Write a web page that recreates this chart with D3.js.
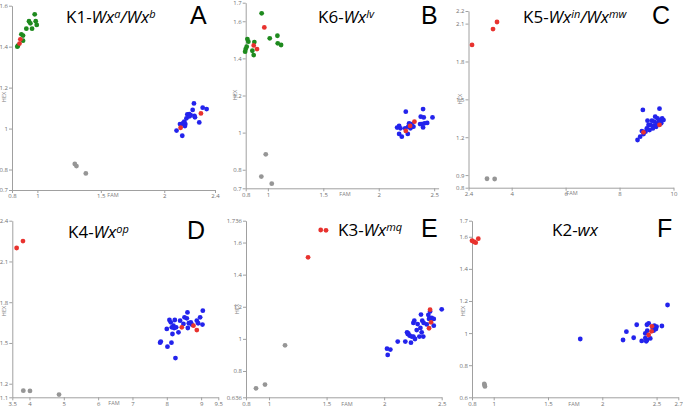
<!DOCTYPE html>
<html><head><meta charset="utf-8">
<script src="https://cdn.jsdelivr.net/npm/d3@7"></script>
<style>
html,body{margin:0;padding:0;background:#fff;}
svg{display:block;font-family:"Open Sans",sans-serif;}
.axis path,.axis line{stroke:#a0a0a0;stroke-width:1;}
.axis text{fill:#707070;font-size:6px;font-family:"Open Sans",sans-serif;}
</style></head><body>
<svg id="chart" width="683" height="408"></svg>
<script>
// ---------- DATA ----------
// Panel A  K1-Wx^a/Wx^b
const aXTicks=[0.8,1,1.5,2,2.4];
const aYTicks=[0.7,0.8,1,1.2,1.4,1.6];
const aGreen=[[0.842,1.400],[0.847,1.405],[0.874,1.460],[0.887,1.454],[0.887,1.429],[0.913,1.488],[0.934,1.524],[0.945,1.514],[0.958,1.488],[0.979,1.558],[0.987,1.524],[0.995,1.506]];
const aRed=[[0.866,1.436],[0.859,1.415],[2.129,1.004],[2.289,1.074]];
const aBlue=[[2.097,0.990],[2.124,1.022],[2.142,0.965],[2.135,1.020],[2.158,1.034],[2.166,1.022],[2.163,1.012],[2.175,1.050],[2.182,1.069],[2.197,1.071],[2.208,1.066],[2.224,1.091],[2.234,1.123],[2.242,1.055],[2.238,1.062],[2.276,1.030],[2.303,1.102],[2.334,1.095],[2.150,1.028],[2.200,1.060]];
const aGray=[[1.295,0.827],[1.308,0.817],[1.382,0.781]];

// Panel B  K6-Wx^lv
const bXTicks=[0.8,1,1.5,2,2.5];
const bYTicks=[0.7,0.8,1,1.2,1.4,1.6,1.7];
const bGreen=[[0.795,1.436],[0.800,1.450],[0.809,1.463],[0.815,1.504],[0.824,1.490],[0.860,1.441],[0.872,1.418],[0.878,1.488],[0.944,1.643],[1.017,1.508],[1.086,1.522],[1.089,1.481],[1.119,1.472]];
const bRed=[[0.872,1.470],[0.902,1.450],[0.968,1.567],[2.244,1.009],[2.322,1.059],[2.283,1.036]];
const bBlue=[[2.166,1.027],[2.184,1.036],[2.196,1.023],[2.184,0.993],[2.208,0.978],[2.244,1.113],[2.238,1.023],[2.262,0.993],[2.274,1.050],[2.286,1.023],[2.298,1.046],[2.313,1.032],[2.379,1.086],[2.388,1.046],[2.400,1.127],[2.406,1.082],[2.400,1.028],[2.412,1.050],[2.437,1.052],[2.485,1.082],[2.373,1.046],[2.266,1.032]];
const bGray=[[0.981,0.883],[0.941,0.763],[1.035,0.725]];

// Panel C  K5-Wx^in/Wx^mw
const cXTicks=[2.4,4,6,8,10];
const cYTicks=[0.8,0.9,1.2,1.5,1.8,2.1,2.2];
const cGreen=[];
const cRed=[[2.531,1.931],[3.309,2.057],[3.457,2.113],[8.889,1.239],[9.481,1.297]];
const cBlue=[[8.864,1.416],[9.481,1.426],[8.667,1.178],[8.765,1.204],[8.827,1.249],[8.889,1.225],[8.963,1.244],[9.012,1.270],[9.037,1.331],[9.136,1.297],[9.111,1.257],[9.198,1.331],[9.259,1.289],[9.284,1.323],[9.321,1.363],[9.383,1.305],[9.407,1.350],[9.444,1.323],[9.506,1.336],[9.543,1.310],[9.580,1.350],[9.630,1.336],[9.358,1.283],[9.235,1.270],[9.074,1.297]];
const cGray=[[3.086,0.871],[3.370,0.869]];

// Panel D  K4-Wx^op
const dXTicks=[3.5,4,5,6,7,8,9,9.5];
const dYTicks=[1.1,1.2,1.5,1.8,2.1,2.4];
const dGreen=[];
const dRed=[[3.626,2.199],[3.811,2.250],[8.437,1.615],[8.777,1.627],[8.874,1.595]];
const dBlue=[[7.805,1.502],[7.825,1.510],[8.000,1.603],[8.019,1.473],[8.077,1.669],[8.116,1.652],[8.136,1.502],[8.145,1.615],[8.165,1.566],[8.194,1.627],[8.213,1.610],[8.233,1.669],[8.252,1.389],[8.272,1.615],[8.340,1.578],[8.388,1.664],[8.485,1.640],[8.515,1.689],[8.583,1.681],[8.602,1.725],[8.612,1.610],[8.641,1.645],[8.699,1.652],[8.728,1.635],[8.874,1.664],[8.913,1.645],[8.971,1.689],[9.049,1.738],[9.039,1.635]];
const dGray=[[3.821,1.149],[4.015,1.147],[4.861,1.120]];

// Panel E  K3-Wx^mq
const eXTicks=[0.8,1,1.5,2,2.5];
const eYTicks=[0.636,0.8,1,1.2,1.4,1.6,1.736];
const eGreen=[];
const eRed=[[1.449,1.678],[1.495,1.676],[1.339,1.508],[2.399,1.182],[2.407,1.103],[2.390,1.066]];
const eBlue=[[2.025,0.939],[2.031,0.900],[2.054,0.933],[2.118,0.983],[2.184,0.983],[2.199,1.041],[2.210,1.034],[2.222,1.020],[2.233,0.976],[2.239,1.014],[2.254,1.014],[2.254,1.099],[2.262,1.113],[2.268,0.999],[2.283,1.055],[2.291,1.092],[2.306,1.014],[2.315,1.068],[2.320,1.151],[2.326,1.041],[2.331,1.113],[2.340,1.014],[2.343,1.099],[2.384,1.149],[2.390,1.124],[2.399,1.171],[2.413,1.130],[2.431,1.124],[2.431,1.082],[2.500,1.184],[2.370,1.090],[2.205,1.030]];
const eGray=[[0.887,0.692],[0.965,0.715],[1.139,0.960]];

// Panel F  K2-wx
const fXTicks=[0.8,1,1.5,2,2.5,2.7];
const fYTicks=[0.6,0.8,1,1.2,1.4,1.6,1.7];
const fGreen=[];
const fRed=[[0.800,1.575],[0.818,1.569],[0.834,1.563],[0.858,1.588],[2.457,1.042],[2.454,1.011],[2.427,0.988]];
const fBlue=[[1.797,0.963],[2.191,0.957],[2.222,1.009],[2.289,0.971],[2.317,1.052],[2.363,0.951],[2.396,0.969],[2.396,0.998],[2.405,0.949],[2.411,0.957],[2.414,1.015],[2.411,1.052],[2.427,1.061],[2.442,0.967],[2.472,1.015],[2.479,1.046],[2.485,1.032],[2.494,1.025],[2.500,1.040],[2.549,1.044],[2.601,1.175],[2.466,1.030]];
const fGray=[[0.913,0.683],[0.919,0.668],[0.916,0.676]];

// ---------- LAYOUT ----------
const COLORS={green:"#1e8a1e",red:"#e8322e",blue:"#2323ec",gray:"#969696"};
const panels=[
 {xd:[0.8,2.4],yd:[0.7,1.6],xr:[12,215],yr:[190,5.7],xt:aXTicks,yt:aYTicks,g:aGreen,r:aRed,b:aBlue,k:aGray,
  title:[["K1-",""],["Wx","i"],["a","si"],["/","i"],["Wx","i"],["b","si"]],tx:66,ty:23,letter:"A",lx:190,ly:24,xl:[113,197],yl:[4,97]},
 {xd:[0.8,2.54],yd:[0.7,1.7],xr:[245.7,438.6],yr:[188.3,2.7],xt:bXTicks,yt:bYTicks,g:bGreen,r:bRed,b:bBlue,k:bGray,
  title:[["K6-",""],["Wx","i"],["lv","si"]],tx:318,ty:23,letter:"B",lx:421,ly:24,xl:[345,196],yl:[235,95]},
 {xd:[2.4,10],yd:[0.8,2.2],xr:[468.5,673.5],yr:[187.7,11],xt:cXTicks,yt:cYTicks,g:cGreen,r:cRed,b:cBlue,k:cGray,
  title:[["K5-",""],["Wx","i"],["in","si"],["/","i"],["Wx","i"],["mw","si"]],tx:523,ty:23,letter:"C",lx:652,ly:24,xl:[572,195],yl:[460,99]},
 {xd:[3.5,9.5],yd:[1.1,2.4],xr:[12.3,218.3],yr:[397.3,220.7],xt:dXTicks,yt:dYTicks,g:dGreen,r:dRed,b:dBlue,k:dGray,
  title:[["K4-",""],["Wx","i"],["op","si"]],tx:68,ty:238,letter:"D",lx:187,ly:239,xl:[114,405],yl:[4,311]},
 {xd:[0.8,2.5],yd:[0.636,1.736],xr:[246,441.7],yr:[397.3,220.7],xt:eXTicks,yt:eYTicks,g:eGreen,r:eRed,b:eBlue,k:eGray,
  title:[["K3-",""],["Wx","i"],["mq","si"]],tx:338,ty:236,letter:"E",lx:421,ly:237,xl:[347,405.5],yl:[237,309]},
 {xd:[0.8,2.7],yd:[0.6,1.7],xr:[472,678.3],yr:[397.3,220.7],xt:fXTicks,yt:fYTicks,g:fGreen,r:fRed,b:fBlue,k:fGray,
  title:[["K2-",""],["wx","i"]],tx:552,ty:236,letter:"F",lx:657,ly:237,xl:[574,405.5],yl:[463,311]}
];

const svg=d3.select("#chart");
const fmt=d=>String(d);

panels.forEach(p=>{
  const x=d3.scaleLinear().domain(p.xd).range(p.xr);
  const y=d3.scaleLinear().domain(p.yd).range(p.yr);
  const g=svg.append("g");
  g.append("g").attr("class","axis").attr("transform",`translate(0,${p.yr[0]})`)
    .call(d3.axisBottom(x).tickValues(p.xt).tickFormat(fmt).tickSize(3).tickSizeOuter(0).tickPadding(1));
  g.append("g").attr("class","axis").attr("transform",`translate(${p.xr[0]},0)`)
    .call(d3.axisLeft(y).tickValues(p.yt).tickFormat(fmt).tickSize(3).tickSizeOuter(0).tickPadding(1));
  g.append("text").attr("x",p.xl[0]).attr("y",p.xl[1]).attr("font-size",5.5).attr("fill","#808080")
    .attr("text-anchor","middle").text("FAM");
  g.append("text").attr("transform",`translate(${p.yl[0]},${p.yl[1]}) rotate(-90)`).attr("font-size",5.5)
    .attr("fill","#808080").attr("text-anchor","middle").attr("dy","0.35em").text("HEX");
  const layers=[[p.g,COLORS.green],[p.b,COLORS.blue],[p.k,COLORS.gray],[p.r,COLORS.red]];
  layers.forEach(([arr,c])=>{
    g.append("g").selectAll("circle").data(arr).join("circle")
      .attr("cx",d=>x(d[0])).attr("cy",d=>y(d[1])).attr("r",2.4).attr("fill",c);
  });
  const t=g.append("text").attr("x",p.tx).attr("y",p.ty).attr("font-size",17).attr("fill","#000");
  p.title.forEach(([s,st])=>{
    const ts=t.append("tspan").text(s);
    if(st.includes("i")) ts.attr("font-style","italic");
    if(st.includes("s")) ts.attr("font-size",11).attr("baseline-shift","45%");
  });
  g.append("text").attr("x",p.lx).attr("y",p.ly).attr("font-size",25)
    .attr("font-family","'Liberation Sans',Arial,sans-serif").attr("fill","#000").text(p.letter);
});
</script>
</body></html>
